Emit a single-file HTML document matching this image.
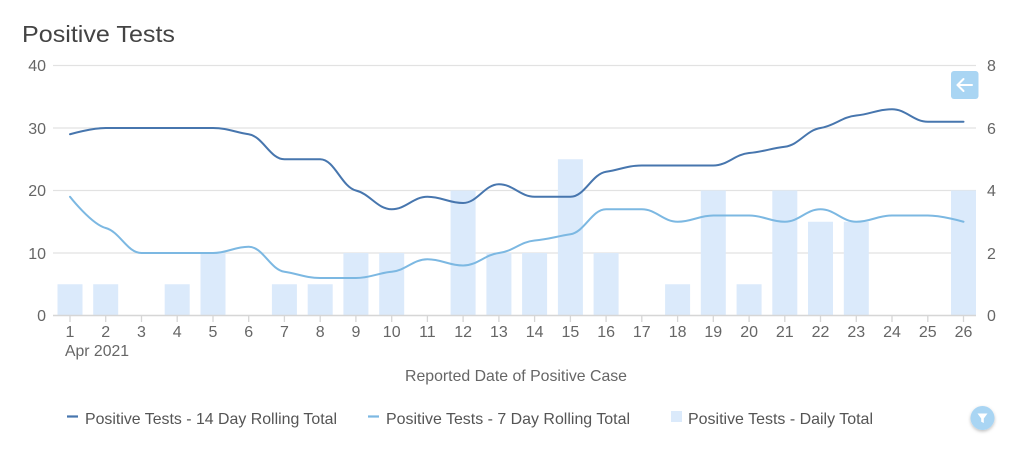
<!DOCTYPE html>
<html>
<head>
<meta charset="utf-8">
<style>
html,body{margin:0;padding:0;background:#fff;}
svg{display:block;font-family:"Liberation Sans",sans-serif;}
</style>
</head>
<body>
<svg width="1023" height="456" viewBox="0 0 1023 456" xmlns="http://www.w3.org/2000/svg">
<rect width="1023" height="456" fill="#fff"/>
<text x="22" y="42" font-size="23" fill="#444" textLength="153" lengthAdjust="spacingAndGlyphs">Positive Tests</text>

<!-- grid -->
<g stroke="#e2e2e2" stroke-width="1.3">
<line x1="53" y1="65.5" x2="976" y2="65.5"/>
<line x1="53" y1="128" x2="976" y2="128"/>
<line x1="53" y1="190.5" x2="976" y2="190.5"/>
<line x1="53" y1="253" x2="976" y2="253"/>
</g>

<!-- left axis labels -->
<g font-size="16" fill="#666" text-anchor="end">
<text x="46" y="71">40</text>
<text x="46" y="134">30</text>
<text x="46" y="196">20</text>
<text x="46" y="259">10</text>
<text x="46" y="321">0</text>
</g>
<!-- right axis labels -->
<g font-size="16" fill="#666">
<text x="987" y="71">8</text>
<text x="987" y="134">6</text>
<text x="987" y="196">4</text>
<text x="987" y="259">2</text>
<text x="987" y="321">0</text>
</g>

<!-- bars -->
<g fill="#dbeafb">
<rect x="57.5" y="284.25" width="25" height="31.25"/>
<rect x="93.2" y="284.25" width="25" height="31.25"/>
<rect x="164.7" y="284.25" width="25" height="31.25"/>
<rect x="200.5" y="253" width="25" height="62.5"/>
<rect x="271.9" y="284.25" width="25" height="31.25"/>
<rect x="307.7" y="284.25" width="25" height="31.25"/>
<rect x="343.4" y="253" width="25" height="62.5"/>
<rect x="379.2" y="253" width="25" height="62.5"/>
<rect x="450.6" y="190.5" width="25" height="125"/>
<rect x="486.4" y="253" width="25" height="62.5"/>
<rect x="522.1" y="253" width="25" height="62.5"/>
<rect x="557.9" y="159.25" width="25" height="156.25"/>
<rect x="593.6" y="253" width="25" height="62.5"/>
<rect x="665.1" y="284.25" width="25" height="31.25"/>
<rect x="700.8" y="190.5" width="25" height="125"/>
<rect x="736.6" y="284.25" width="25" height="31.25"/>
<rect x="772.3" y="190.5" width="25" height="125"/>
<rect x="808" y="221.75" width="25" height="93.75"/>
<rect x="843.8" y="221.75" width="25" height="93.75"/>
<rect x="951" y="190.5" width="25" height="125"/>
</g>

<!-- x axis -->
<line x1="53" y1="315.5" x2="976" y2="315.5" stroke="#d6d6d6" stroke-width="1.5"/>
<g stroke="#d6d6d6" stroke-width="1.3">
<line x1="70" y1="316" x2="70" y2="322"/>
<line x1="105.7" y1="316" x2="105.7" y2="322"/>
<line x1="141.5" y1="316" x2="141.5" y2="322"/>
<line x1="177.2" y1="316" x2="177.2" y2="322"/>
<line x1="213" y1="316" x2="213" y2="322"/>
<line x1="248.7" y1="316" x2="248.7" y2="322"/>
<line x1="284.4" y1="316" x2="284.4" y2="322"/>
<line x1="320.2" y1="316" x2="320.2" y2="322"/>
<line x1="355.9" y1="316" x2="355.9" y2="322"/>
<line x1="391.7" y1="316" x2="391.7" y2="322"/>
<line x1="427.4" y1="316" x2="427.4" y2="322"/>
<line x1="463.1" y1="316" x2="463.1" y2="322"/>
<line x1="498.9" y1="316" x2="498.9" y2="322"/>
<line x1="534.6" y1="316" x2="534.6" y2="322"/>
<line x1="570.4" y1="316" x2="570.4" y2="322"/>
<line x1="606.1" y1="316" x2="606.1" y2="322"/>
<line x1="641.8" y1="316" x2="641.8" y2="322"/>
<line x1="677.6" y1="316" x2="677.6" y2="322"/>
<line x1="713.3" y1="316" x2="713.3" y2="322"/>
<line x1="749.1" y1="316" x2="749.1" y2="322"/>
<line x1="784.8" y1="316" x2="784.8" y2="322"/>
<line x1="820.5" y1="316" x2="820.5" y2="322"/>
<line x1="856.3" y1="316" x2="856.3" y2="322"/>
<line x1="892" y1="316" x2="892" y2="322"/>
<line x1="927.8" y1="316" x2="927.8" y2="322"/>
<line x1="963.5" y1="316" x2="963.5" y2="322"/>
</g>
<g font-size="16" fill="#666" text-anchor="middle">
<text x="70" y="337">1</text>
<text x="105.7" y="337">2</text>
<text x="141.5" y="337">3</text>
<text x="177.2" y="337">4</text>
<text x="213" y="337">5</text>
<text x="248.7" y="337">6</text>
<text x="284.4" y="337">7</text>
<text x="320.2" y="337">8</text>
<text x="355.9" y="337">9</text>
<text x="391.7" y="337">10</text>
<text x="427.4" y="337">11</text>
<text x="463.1" y="337">12</text>
<text x="498.9" y="337">13</text>
<text x="534.6" y="337">14</text>
<text x="570.4" y="337">15</text>
<text x="606.1" y="337">16</text>
<text x="641.8" y="337">17</text>
<text x="677.6" y="337">18</text>
<text x="713.3" y="337">19</text>
<text x="749.1" y="337">20</text>
<text x="784.8" y="337">21</text>
<text x="820.5" y="337">22</text>
<text x="856.3" y="337">23</text>
<text x="892" y="337">24</text>
<text x="927.8" y="337">25</text>
<text x="963.5" y="337">26</text>
</g>
<text x="65" y="356" font-size="16" fill="#666" textLength="64" lengthAdjust="spacingAndGlyphs">Apr 2021</text>
<text x="405" y="381" font-size="16" fill="#666" textLength="222" lengthAdjust="spacingAndGlyphs">Reported Date of Positive Case</text>

<!-- 7 day line -->
<path fill="none" stroke="#7cb8e2" stroke-width="2" stroke-linecap="round" d="M70,196.75 C70,196.75 91.4,224.1 105.7,228 C120,231.9 127.2,253 141.5,253 C155.8,253 162.9,253 177.2,253 C191.5,253 198.7,253 213,253 C227.3,253 234.4,246.75 248.7,246.75 C263,246.75 270.1,269.55 284.4,271.75 C298.7,273.95 305.9,278 320.2,278 C334.5,278 341.6,278 355.9,278 C370.2,278 377.4,273.05 391.7,271.75 C406,270.45 413.1,259.25 427.4,259.25 C441.7,259.25 448.8,265.5 463.1,265.5 C477.4,265.5 484.6,254.75 498.9,253 C513.2,251.25 520.3,241.8 534.6,240.5 C548.9,239.2 556.1,236.45 570.4,234.25 C584.7,232.05 591.8,209.25 606.1,209.25 C620.4,209.25 627.5,209.25 641.8,209.25 C656.1,209.25 663.3,221.75 677.6,221.75 C691.9,221.75 699,215.5 713.3,215.5 C727.6,215.5 734.8,215.5 749.1,215.5 C763.4,215.5 770.5,221.75 784.8,221.75 C799.1,221.75 806.2,209.25 820.5,209.25 C834.8,209.25 842,221.75 856.3,221.75 C870.6,221.75 877.7,215.5 892,215.5 C906.3,215.5 913.5,215.5 927.8,215.5 C942.1,215.5 963.5,221.75 963.5,221.75"/>

<!-- 14 day line -->
<path fill="none" stroke="#4776ae" stroke-width="2" stroke-linecap="round" d="M70,134.25 C70,134.25 91.4,128 105.7,128 C120,128 127.2,128 141.5,128 C155.8,128 162.9,128 177.2,128 C191.5,128 198.7,128 213,128 C227.3,128 234.4,132.05 248.7,134.25 C263,136.45 270.1,159.25 284.4,159.25 C298.7,159.25 305.9,159.25 320.2,159.25 C334.5,159.25 341.6,187 355.9,190.5 C370.2,194 377.4,209.25 391.7,209.25 C406,209.25 413.1,196.75 427.4,196.75 C441.7,196.75 448.8,203 463.1,203 C477.4,203 484.6,184.25 498.9,184.25 C513.2,184.25 520.3,196.75 534.6,196.75 C548.9,196.75 556.1,196.75 570.4,196.75 C584.7,196.75 591.8,173.95 606.1,171.75 C620.4,169.55 627.5,165.5 641.8,165.5 C656.1,165.5 663.3,165.5 677.6,165.5 C691.9,165.5 699,165.5 713.3,165.5 C727.6,165.5 734.8,154.3 749.1,153 C763.4,151.7 770.5,148.5 784.8,146.75 C799.1,145 806.2,130.2 820.5,128 C834.8,125.8 842,116.8 856.3,115.5 C870.6,114.2 877.7,109.25 892,109.25 C906.3,109.25 913.5,121.75 927.8,121.75 C942.1,121.75 963.5,121.75 963.5,121.75"/>

<!-- back button -->
<rect x="951" y="71" width="27.5" height="28" rx="3" fill="#a9d5f3"/>
<g stroke="#fff" stroke-width="2" fill="none" stroke-linecap="round" stroke-linejoin="round">
<line x1="957.5" y1="85" x2="972" y2="85"/>
<polyline points="963.5,79 957.5,85 963.5,91"/>
</g>

<!-- legend -->
<line x1="67" y1="416.5" x2="78" y2="416.5" stroke="#4776ae" stroke-width="2.2"/>
<text x="85" y="424" font-size="16" fill="#555" textLength="252" lengthAdjust="spacingAndGlyphs">Positive Tests - 14 Day Rolling Total</text>
<line x1="368" y1="416.5" x2="379" y2="416.5" stroke="#7cb8e2" stroke-width="2.2"/>
<text x="386" y="424" font-size="16" fill="#555" textLength="244" lengthAdjust="spacingAndGlyphs">Positive Tests - 7 Day Rolling Total</text>
<rect x="671" y="411" width="11" height="11" fill="#dbeafb"/>
<text x="688" y="424" font-size="16" fill="#555" textLength="185" lengthAdjust="spacingAndGlyphs">Positive Tests - Daily Total</text>

<!-- filter button -->
<defs>
<filter id="sh" x="-50%" y="-50%" width="200%" height="200%">
<feDropShadow dx="0" dy="1.5" stdDeviation="1.5" flood-color="#000" flood-opacity="0.25"/>
</filter>
</defs>
<circle cx="982.5" cy="418" r="12" fill="#a9d5f3" filter="url(#sh)"/>
<path d="M977.5,413.5 L987.5,413.5 L983.8,418.5 L983.8,423 L981.2,421.8 L981.2,418.5 Z" fill="#fff"/>
</svg>
</body>
</html>
